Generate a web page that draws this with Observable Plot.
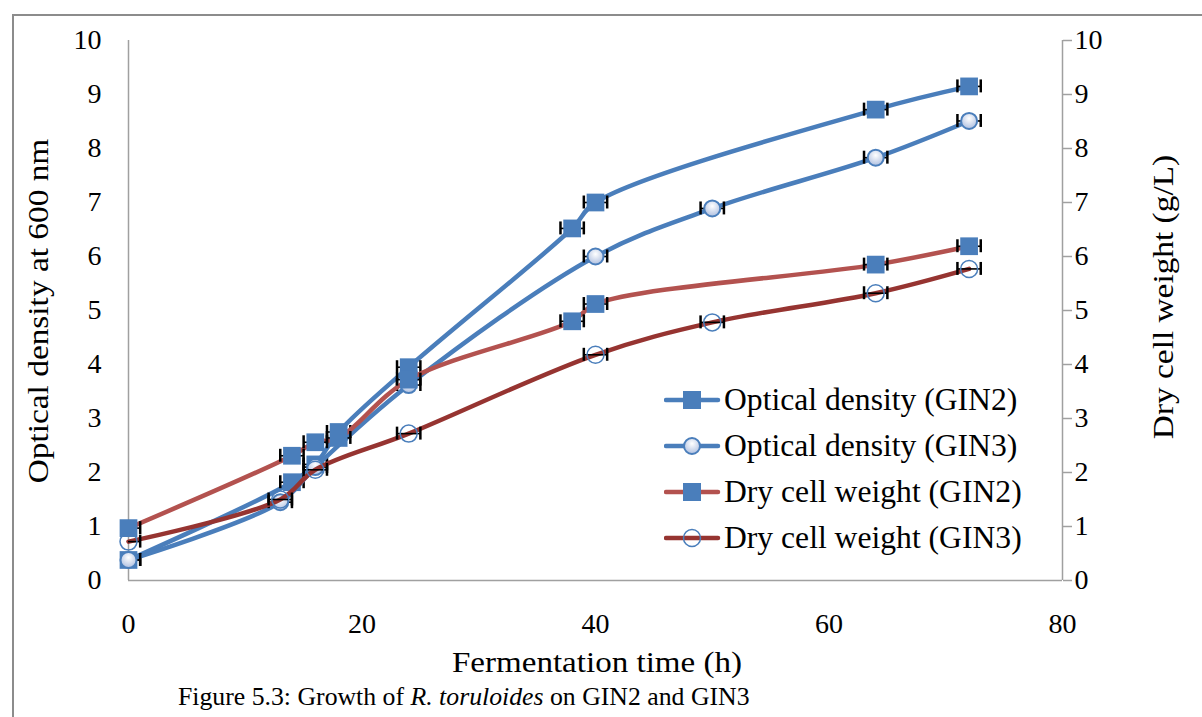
<!DOCTYPE html>
<html>
<head>
<meta charset="utf-8">
<script src="https://cdn.jsdelivr.net/npm/d3@7"></script>
<script src="https://cdn.jsdelivr.net/npm/@observablehq/plot@0.6"></script>
<style>
  body { margin: 0; background: #fff; }
  #wrap { position: relative; width: 1202px; height: 717px; overflow: hidden; font-family: "Liberation Serif", "Times New Roman", serif; color: #000; }
  #frame { position: absolute; left: 12px; top: 14px; width: 1300px; height: 800px; border-left: 2px solid #8c8c8c; border-top: 2px solid #8c8c8c; }
  #chart { position: absolute; left: 0; top: 0; }
  .ytitle { position: absolute; white-space: nowrap; font-size: 29px; transform: translate(-50%, -50%) rotate(-90deg) scale(1.15, 1); }
  #xtitle { position: absolute; left: 597px; top: 662px; transform: translate(-50%, -50%) scale(1.14, 1); font-size: 29px; white-space: nowrap; }
  #caption { position: absolute; left: 178px; top: 697px; transform-origin: 0 50%; transform: translateY(-50%) scale(1.01, 1); font-size: 25.5px; white-space: nowrap; }
  #legend { position: absolute; left: 664px; top: 377px; }
  .row { display: flex; align-items: center; height: 46px; font-size: 31px; white-space: nowrap; }
  .row span { display: inline-block; transform-origin: 0 50%; transform: scale(1.02, 1); }
  .row svg { margin-right: 2px; }
</style>
</head>
<body>
<div id="wrap">
  <div id="frame"></div>
  <div id="chart"></div>
  <div class="ytitle" style="left:38px; top:311px;">Optical density at 600 nm</div>
  <div class="ytitle" style="left:1163px; top:297px;">Dry cell weight (g/L)</div>
  <div id="xtitle">Fermentation time (h)</div>
  <div id="caption">Figure 5.3: Growth of <i>R. toruloides</i> on GIN2 and GIN3</div>
  <div id="legend"></div>
</div>
<script>
// ---- data ----
const seriesNames = ["Optical density (GIN2)", "Optical density (GIN3)", "Dry cell weight (GIN2)", "Dry cell weight (GIN3)"];
const odGin2Time = [0, 14, 16, 18, 24, 38, 40, 64, 72];
const odGin2 = [0.38, 1.82, 2.15, 2.75, 3.95, 6.52, 7.0, 8.72, 9.15];
const odGin3Time = [0, 13, 16, 24, 40, 50, 64, 72];
const odGin3 = [0.38, 1.45, 2.1, 3.62, 6.0, 6.89, 7.83, 8.51];
const dcwGin2Time = [0, 14, 16, 18, 24, 38, 40, 64, 72];
const dcwGin2 = [0.97, 2.31, 2.56, 2.64, 3.72, 4.8, 5.12, 5.85, 6.19];
const dcwGin3Time = [0, 13, 16, 24, 40, 50, 64, 72];
const dcwGin3 = [0.72, 1.5, 2.05, 2.72, 4.18, 4.78, 5.32, 5.77];
const timeError = 1; // horizontal error bar half-width (h)
const xTicks = [0, 20, 40, 60, 80];
const yTicks = [0, 1, 2, 3, 4, 5, 6, 7, 8, 9, 10];

// ---- styles ----
const blue = "#4a7ebb";
const styles = [
  {line: blue, symbol: "square", fill: blue, stroke: "none", r: 10, sw: 0},
  {line: blue, symbol: "circle", fill: "url(#grad)", stroke: blue, r: 8, sw: 2},
  {line: "#b3524f", symbol: "square", fill: blue, stroke: "none", r: 10, sw: 0},
  {line: "#963431", symbol: "circle", fill: "none", stroke: blue, r: 8.5, sw: 1.5}
];

const times = [odGin2Time, odGin3Time, dcwGin2Time, dcwGin3Time];
const values = [odGin2, odGin3, dcwGin2, dcwGin3];
const series = seriesNames.map((name, i) => times[i].map((t, j) => ({series: name, time: t, value: values[i][j]})));

const capHalf = 0.12;
const marks = [];
series.forEach((data, i) => {
  const s = styles[i];
  marks.push(Plot.line(data, {x: "time", y: "value", stroke: s.line, strokeWidth: 4.5, curve: "catmull-rom", strokeLinejoin: "round", strokeLinecap: "round"}));
  marks.push(Plot.ruleY(data, {y: "value", x1: d => d.time - timeError, x2: d => d.time + timeError, stroke: "#000", strokeWidth: 1.6, clip: true}));
  marks.push(Plot.ruleX(data, {x: d => d.time - timeError, y1: d => d.value - capHalf, y2: d => d.value + capHalf, stroke: "#000", strokeWidth: 2.5, clip: true}));
  marks.push(Plot.ruleX(data, {x: d => d.time + timeError, y1: d => d.value - capHalf, y2: d => d.value + capHalf, stroke: "#000", strokeWidth: 2.5, clip: true}));
  marks.push(Plot.dot(data, {x: "time", y: "value", symbol: s.symbol, r: s.r, fill: s.fill, stroke: s.stroke, strokeWidth: s.sw}));
});

const chart = Plot.plot({
  width: 1202,
  height: 680,
  marginLeft: 128,
  marginRight: 140,
  marginTop: 40,
  marginBottom: 100,
  style: {fontFamily: "'Liberation Serif', 'Times New Roman', serif", fontSize: "28px", color: "#000", background: "transparent", overflow: "visible"},
  x: {domain: [0, 80]},
  y: {domain: [0, 10]},
  marks: [
    Plot.axisX({ticks: xTicks, tickSize: 0, tickPadding: 33, label: null, tickFormat: d => d, fontSize: 28}),
    Plot.axisY({ticks: yTicks, tickSize: 0, tickPadding: 27, label: null, anchor: "left", fontSize: 28}),
    Plot.axisY({ticks: yTicks, tickSize: 9, tickPadding: 3, label: null, anchor: "right", fontSize: 28, stroke: "#a0a0a0", strokeWidth: 1.5}),
    Plot.ruleX([0], {stroke: "#a0a0a0", strokeWidth: 1.5}),
    Plot.ruleX([80], {stroke: "#a0a0a0", strokeWidth: 1.5}),
    Plot.ruleY([0], {stroke: "#a0a0a0", strokeWidth: 1.5}),
    ...marks
  ]
});

// gradient for light-filled circle markers
const defs = document.createElementNS("http://www.w3.org/2000/svg", "defs");
defs.innerHTML = '<radialGradient id="grad" cx="50%" cy="35%" r="65%"><stop offset="0%" stop-color="#ffffff"/><stop offset="100%" stop-color="#aebfe0"/></radialGradient>';
chart.insertBefore(defs, chart.firstChild);
document.getElementById("chart").appendChild(chart);

// legend
const legend = document.getElementById("legend");
seriesNames.forEach((name, i) => {
  const s = styles[i];
  const row = document.createElement("div");
  row.className = "row";
  let marker;
  if (s.symbol === "square") marker = `<rect x="19" y="1" width="18" height="18" fill="${s.fill}"/>`;
  else if (i === 1) marker = `<circle cx="28" cy="10" r="${s.r}" fill="url(#grad2)" stroke="${s.stroke}" stroke-width="${s.sw}"/>`;
  else marker = `<circle cx="28" cy="10" r="${s.r}" fill="none" stroke="${s.stroke}" stroke-width="${s.sw}"/>`;
  row.innerHTML = `<svg width="58" height="20"><defs><radialGradient id="grad2" cx="50%" cy="35%" r="65%"><stop offset="0%" stop-color="#ffffff"/><stop offset="100%" stop-color="#aebfe0"/></radialGradient></defs><line x1="2" x2="54" y1="10" y2="10" stroke="${s.line}" stroke-width="4.5" stroke-linecap="round"/>${marker}</svg><span>${name}</span>`;
  legend.appendChild(row);
});
</script>
</body>
</html>
